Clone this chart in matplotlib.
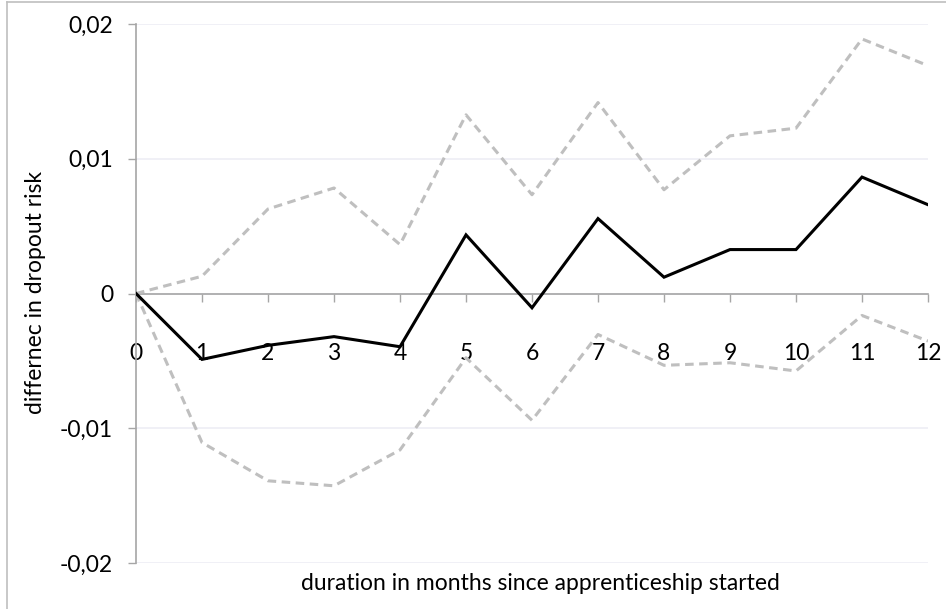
import numpy as np
import matplotlib
matplotlib.use('Agg')
import matplotlib.pyplot as plt
from matplotlib.lines import Line2D
from matplotlib.ticker import FuncFormatter

plt.rcParams['font.family'] = ['Lato', 'DejaVu Sans']

months = list(range(13))
estimate = [0, -0.00489, -0.00385, -0.0032, -0.00395, 0.00435, -0.00106,
            0.00556, 0.00121, 0.00326, 0.00326, 0.00864, 0.00659]
upper_ci = [0, 0.00128, 0.00627, 0.00783, 0.00363, 0.01326, 0.00733,
            0.01417, 0.0077, 0.0117, 0.01227, 0.01889, 0.01691]
lower_ci = [0, -0.01106, -0.0139, -0.01427, -0.01161, -0.00477, -0.00941,
            -0.00304, -0.00533, -0.00514, -0.00575, -0.00163, -0.00353]
y_ticks = [-0.02, -0.01, 0, 0.01, 0.02]

W, H = 946, 609
FS = 16.5
fig = plt.figure(figsize=(W / 100, H / 100), dpi=100)
ax = fig.add_axes([136 / W, 1 - 563 / H, 792 / W, 539 / H])

axis_col = '#A6A6A6'
grid_col = '#EDEDF5'

ax.plot(months, upper_ci, color='#BFBFBF', lw=2.2, dashes=(2.8, 1.8), zorder=3)
ax.plot(months, lower_ci, color='#BFBFBF', lw=2.2, dashes=(2.8, 1.8), zorder=3)
ax.plot(months, estimate, color='black', lw=2.2, zorder=4, solid_joinstyle='miter')

ax.set_xlim(0, 12)
ax.set_ylim(-0.02, 0.02)
ax.set_xticks(months)
ax.set_yticks(y_ticks)
ax.yaxis.set_major_formatter(FuncFormatter(
    lambda v, p: '0' if abs(v) < 1e-12 else f'{v:.2f}'.replace('.', ',')))

for yv in y_ticks:
    ax.axhline(yv, color=grid_col, lw=1.2, zorder=1)

for s in ['top', 'right']:
    ax.spines[s].set_visible(False)
ax.spines['bottom'].set_position(('data', 0))
ax.spines['bottom'].set_color(axis_col)
ax.spines['left'].set_color(axis_col)
ax.spines['bottom'].set_linewidth(1.2)
ax.spines['left'].set_linewidth(1.2)
ax.spines['bottom'].set_zorder(2)

ax.tick_params(axis='x', direction='out', length=5.5, width=1, color=axis_col,
               labelsize=FS, pad=30)
ax.tick_params(axis='y', direction='out', length=5.5, width=1, color=axis_col,
               labelsize=FS, pad=11)

fig.text(35 / W, 1 - 292 / H, 'differnec in dropout risk', rotation=90,
         ha='center', va='center', fontsize=FS)
fig.text(540 / W, 1 - 583 / H, 'duration in months since apprenticeship started',
         ha='center', va='center', fontsize=FS)

# chart border (top and left edges visible)
fig.add_artist(Line2D([7 / W, 7 / W], [0, 1 - 1.5 / H], transform=fig.transFigure,
                      color='#BFBFBF', lw=1.2))
fig.add_artist(Line2D([7 / W, 1], [1 - 1.5 / H, 1 - 1.5 / H], transform=fig.transFigure,
                      color='#BFBFBF', lw=1.2))

fig.savefig('out.png', dpi=100, facecolor='white')
